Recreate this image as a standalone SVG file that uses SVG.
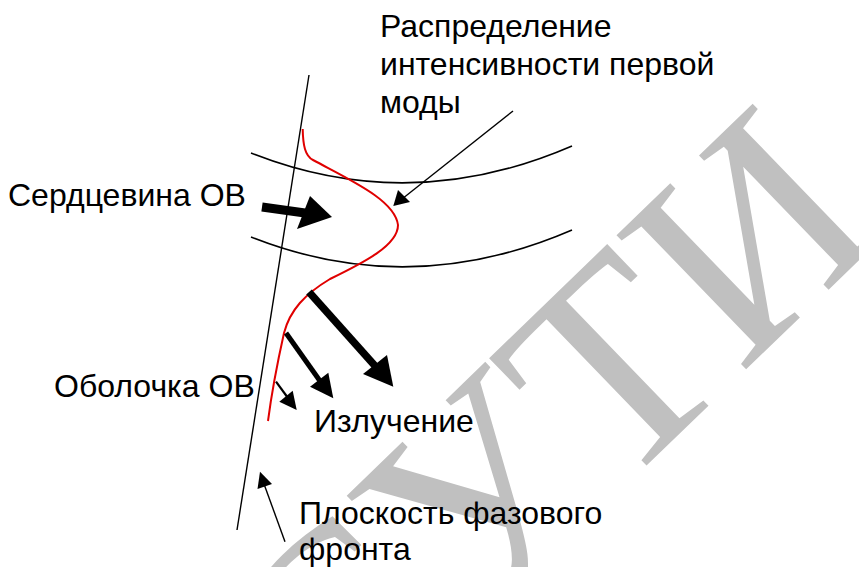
<svg xmlns="http://www.w3.org/2000/svg" width="859" height="567" viewBox="0 0 859 567">
<style>
.lbl{font-family:"Liberation Sans",Arial,sans-serif;font-size:32px;fill:#000}
.wm{font-family:"Liberation Serif","Times New Roman",serif;font-size:285px;fill:#c0c0c0}
.thin{stroke:#000;stroke-width:1.4;fill:none}
.shaft{stroke:#000;fill:none}
.head{fill:#000;stroke:none}
.arc{stroke:#000;stroke-width:1.6;fill:none}
</style>
<rect width="859" height="567" fill="#fff"/>
<g id="watermark">
<text class="wm" transform="translate(615,496) rotate(-44)" text-anchor="end">СУ</text>
<text class="wm" transform="translate(615,496) rotate(-44)">ТИ</text>
</g>
<g id="fiber">
<path id="core-top" class="arc" d="M251,153 Q410,216 572,146"/>
<path id="core-bottom" class="arc" d="M251,237 Q410,300 572,230"/>
</g>
<g id="phase-front">
<line class="thin" x1="309" y1="75" x2="237" y2="530"/>
</g>
<g id="mode-profile">
<path d="M302.7,129 C303,145 305,156 313,160 C350,180 395,200 398,225 C398,245 365,262 330,279 C305,294 290,310 284,333 C278,360 272,390 268,421" fill="none" stroke="#e00000" stroke-width="2"/>
</g>
<g id="connectors">
<line class="thin" x1="513" y1="111" x2="402" y2="199"/>
<polygon class="head" points="393.3,206 398,190 410,202"/>
<line class="shaft" stroke-width="9" x1="262" y1="207" x2="305" y2="213"/>
<polygon class="head" points="332,217 310,196 297,229"/>
<line class="shaft" stroke-width="7.5" x1="309" y1="292" x2="376" y2="367"/>
<polygon class="head" points="393.3,386.7 363,374 387,355"/>
<line class="shaft" stroke-width="5" x1="286" y1="333" x2="320" y2="381"/>
<polygon class="head" points="333.3,398.3 310,386.7 328.3,372.7"/>
<line class="shaft" stroke-width="2.2" x1="276" y1="381.7" x2="288" y2="398"/>
<polygon class="head" points="296.7,410 279.3,401.7 292.7,390.7"/>
<line class="thin" x1="285" y1="541.7" x2="264" y2="484"/>
<polygon class="head" points="260,471.7 257.5,489 272,484"/>
</g>
<g id="labels">
<text class="lbl" x="380" y="37">Распределение</text>
<text class="lbl" x="380" y="75">интенсивности первой</text>
<text class="lbl" x="380" y="113">моды</text>
<text class="lbl" x="8" y="206">Сердцевина ОВ</text>
<text class="lbl" x="54" y="397">Оболочка ОВ</text>
<text class="lbl" x="314" y="432">Излучение</text>
<text class="lbl" x="299" y="524">Плоскость фазового</text>
<text class="lbl" x="299" y="560">фронта</text>
</g>
</svg>
